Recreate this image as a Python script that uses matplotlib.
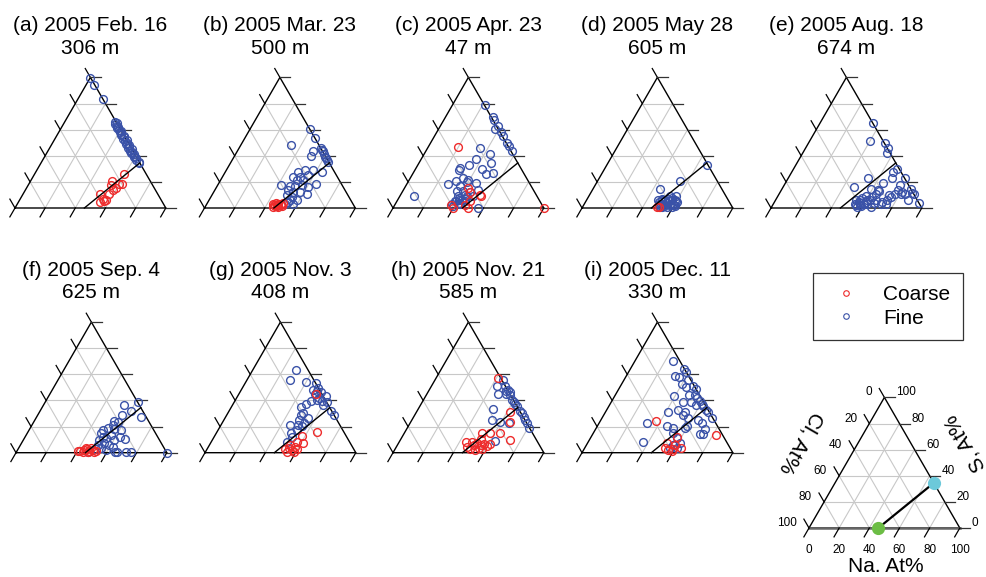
import numpy as np
import matplotlib.pyplot as plt
from matplotlib.lines import Line2D

plt.rcParams['font.family'] = ['Liberation Sans', 'DejaVu Sans']

# panel titles and sampling heights
titles = ["(a) 2005 Feb. 16", "(b) 2005 Mar. 23", "(c) 2005 Apr. 23",
          "(d) 2005 May 28", "(e) 2005 Aug. 18", "(f) 2005 Sep. 4",
          "(g) 2005 Nov. 3", "(h) 2005 Nov. 21", "(i) 2005 Dec. 11"]
heights = ["306 m", "500 m", "47 m", "605 m", "674 m",
           "625 m", "408 m", "585 m", "330 m"]

# particle compositions as (Na %, S %), Cl = 100 - Na - S
a_coarse = [(59.5, 26.1), (54.2, 20.3), (54.5, 17.7), (59.7, 18.2), (61.7, 18.5),
            (59.4, 15.2), (58.3, 13.9), (50.6, 10.9), (57.3, 10.6), (54.8, 6.8),
            (53.9, 4.3), (56.8, 5.1), (57.3, 6.3)]
a_fine = [(0.3, 99.5), (5.5, 94.4), (16.8, 83.3), (33, 66), (35, 65), (34, 64),
          (36, 63), (37.5, 62), (37, 61), (39, 60), (41, 59), (40.5, 58), (42, 57),
          (42, 56), (44.5, 55), (45, 54), (45, 53), (48, 52), (47.5, 51), (49, 50),
          (49, 49), (51.5, 48), (52, 47), (52, 46), (55, 45), (54.5, 44), (56, 43),
          (56, 42), (58.5, 41), (59, 40), (59.5, 39), (61.5, 38), (62, 37),
          (65, 35), (65, 34.5)]

b_coarse = [(44.2, 2.8), (45.4, 3.9), (47.2, 3.4), (49.0, 2.8), (46.0, 1.3),
            (47.6, 1.3), (50.2, 1.8), (50.3, 3.9), (44.7, 0.8), (45.0, 2.0),
            (46.5, 2.5), (48.0, 1.0), (49.5, 2.0)]
b_fine = [(39.7, 60.6), (46.6, 53.4), (33.1, 48.5), (54.4, 45.9), (56.8, 43.3),
          (60.3, 39.4), (62.7, 36.9), (50.1, 43.3), (50.3, 40.2), (63.9, 27.8),
          (48.3, 27.8), (52.1, 29.1), (57.2, 29.1), (51.3, 24.0), (56.2, 25.3),
          (47.1, 23.5), (50.4, 21.4), (54.9, 21.4), (42.3, 17.5), (48.3, 16.8),
          (51.6, 16.8), (55.7, 17.5), (60.8, 16.2), (65.0, 18.0), (48.7, 13.7),
          (52.7, 12.4), (57.1, 12.4), (62.2, 11.1), (49.5, 9.8), (53.5, 8.5),
          (58.1, 5.9), (57.2, 3.4), (53.3, 4.6), (51.9, 2.8), (53.5, 6.4),
          (55.5, 44.6), (58.5, 41.0), (61.5, 38.0), (64.0, 35.5)]

c_coarse = [(19.9, 46.9), (42.3, 15.4), (45.1, 12.1), (52.7, 10.3), (53.9, 9.0),
            (48.5, 5.1), (49.6, 0.0), (37.1, 2.6), (39.6, 0.0), (100.0, 0.0),
            (46.5, 2.6)]
c_fine = [(21.8, 78.7), (31.0, 70.0), (33.0, 67.4), (37.9, 62.8), (37.4, 60.8),
          (42.5, 58.2), (45.3, 55.1), (50.6, 50.0), (53.0, 47.4), (57.1, 43.6),
          (34.7, 46.2), (43.9, 41.0), (36.5, 37.2), (33.8, 33.3), (47.9, 34.1),
          (29.0, 30.8), (29.1, 29.0), (43.9, 30.0), (48.6, 26.4), (52.8, 26.9),
          (35.1, 23.1), (31.5, 20.5), (39.4, 21.3), (39.5, 19.7), (45.5, 19.2),
          (26.8, 18.7), (36.1, 16.7), (9.5, 9.5), (49.4, 13.6), (45.0, 12.3),
          (40.3, 12.8), (35.8, 12.8), (38.8, 9.0), (42.4, 6.4), (38.6, 5.1),
          (37.3, 3.3), (42.8, 3.3), (45.2, 5.1), (39.1, 1.8), (56.2, 0.0),
          (44.4, 9.0), (48.8, 9.0), (40.0, 8.0), (41.0, 6.0), (43.0, 10.0),
          (42.0, 4.0), (39.0, 5.0), (44.0, 7.0)]

d_coarse = [(49.0, 1.0), (51.0, 0.5)]
d_fine = [(66.5, 33.3), (54.7, 20.5), (44.2, 14.9), (57.8, 9.0), (47.6, 5.9),
          (49.2, 7.2), (51.8, 6.4), (53.6, 7.2), (56.5, 5.9), (58.4, 6.4),
          (49.6, 3.3), (52.2, 3.3), (54.2, 3.8), (56.7, 3.3), (58.9, 3.3),
          (60.4, 4.6), (52.4, 0.8), (55.7, 0.8), (59.0, 0.8), (61.0, 1.3),
          (51.3, 0.8), (52.3, 5.4), (48.5, 4.5), (50.5, 2.0), (53.5, 1.5),
          (55.0, 5.0), (57.5, 2.0), (59.5, 5.5), (50.0, 6.5), (54.0, 9.0),
          (56.0, 8.0), (60.0, 2.5)]

e_coarse = []
e_fine = [(35.3, 64.9), (39.8, 51.5), (50.3, 50.0), (55.0, 45.6), (55.5, 42.3),
          (69.0, 29.5), (67.0, 27.7), (69.1, 22.6), (77.6, 22.6), (52.9, 23.1),
          (64.8, 19.2), (47.0, 16.2), (58.6, 14.9), (64.0, 14.1), (65.0, 13.1),
          (76.6, 17.4), (77.6, 13.6), (81.0, 12.3), (80.5, 11.0), (85.2, 14.9),
          (88.0, 11.5), (83.4, 10.5), (89.4, 11.0), (87.9, 6.4), (96.3, 3.8),
          (77.0, 10.5), (75.1, 8.5), (74.2, 5.9), (74.6, 2.8), (71.3, 2.8),
          (66.3, 3.8), (65.6, 0.8), (58.2, 9.0), (56.5, 7.9), (60.6, 6.4),
          (53.1, 5.9), (55.9, 4.6), (55.0, 2.1), (58.3, 2.1), (60.2, 2.8),
          (62.2, 3.3), (56.7, 0.8), (63.0, 5.9), (66.1, 6.4), (71.5, 4.6),
          (73.4, 9.7), (63.8, 11.0), (62.9, 8.5), (54.0, 3.0), (57.0, 4.0),
          (59.0, 1.5), (61.0, 4.5), (56.0, 6.0), (60.0, 3.0)]

f_coarse = [(40.5, 1.3), (42.0, 1.5), (44.1, 2.1), (45.7, 2.6), (47.8, 1.5),
            (49.7, 2.1), (52.2, 1.5), (44.0, 0.3), (47.8, 0.3), (51.8, 0.3),
            (48.0, 3.4), (44.6, 3.4)]
f_fine = [(61.7, 38.7), (53.0, 36.9), (60.7, 31.7), (55.9, 28.6), (69.1, 27.3),
          (53.3, 24.0), (56.0, 23.2), (53.5, 21.4), (51.9, 18.8), (49.0, 17.0),
          (56.3, 18.0), (61.3, 17.0), (48.9, 14.9), (56.2, 13.7), (62.5, 12.4),
          (66.9, 10.3), (54.2, 11.1), (60.4, 9.8), (55.0, 7.2), (59.0, 5.9),
          (61.9, 4.6), (54.7, 3.4), (58.7, 2.1), (65.2, 0.3), (67.0, 0.3),
          (73.0, 0.3), (76.3, 0.3), (100.0, 0.0), (51.2, 5.9), (51.7, 2.6),
          (51.3, 12.4), (50.4, 9.8), (47.9, 0.3)]

g_coarse = [(51.0, 44.6), (58.0, 12.9), (66.3, 15.5), (57.1, 8.0), (61.3, 7.7),
            (53.7, 5.9), (53.9, 3.4), (56.7, 2.1), (57.7, 4.6), (54.0, 0.8),
            (58.5, 0.8), (59.7, 2.8), (51.9, 2.8)]
g_fine = [(29.1, 63.1), (28.4, 55.7), (40.1, 54.4), (46.8, 53.1), (50.3, 49.7),
          (48.0, 47.7), (53.4, 46.6), (58.4, 43.3), (54.6, 42.0), (58.1, 39.4),
          (61.8, 38.7), (60.0, 36.9), (54.1, 40.7), (50.3, 39.4), (47.9, 37.6),
          (46.3, 35.1), (49.9, 30.4), (55.0, 26.5), (48.8, 29.1), (49.6, 25.3),
          (54.3, 22.7), (50.9, 21.4), (45.8, 20.9), (52.4, 17.5), (49.3, 14.9),
          (51.6, 12.4), (50.4, 8.0), (54.4, 20.1), (50.8, 47.2), (50.4, 44.6),
          (71.0, 29.1), (67.2, 32.2)]

h_coarse = [(40.9, 57.2), (61.9, 31.0), (66.0, 23.8), (51.4, 15.4), (57.2, 14.9),
            (63.4, 14.9), (73.0, 9.7), (44.3, 8.5), (53.2, 10.5), (46.8, 4.6),
            (50.6, 5.9), (52.2, 7.2), (55.1, 5.9), (57.0, 6.4), (59.7, 5.4),
            (49.9, 2.8), (53.6, 2.1), (55.3, 3.3), (57.7, 2.8), (61.4, 6.4),
            (48.5, 7.9)]
h_fine = [(45.0, 55.9), (43.0, 51.3), (49.2, 50.8), (52.0, 48.2), (47.1, 44.9),
          (52.8, 44.9), (56.0, 43.8), (58.8, 40.5), (60.8, 38.7), (62.6, 37.2),
          (64.6, 35.4), (68.1, 32.1), (70.5, 30.3), (72.9, 27.7), (75.3, 25.1),
          (77.6, 22.6), (80.9, 19.2), (49.8, 33.3), (52.8, 25.1), (59.3, 23.8),
          (65.5, 22.6), (63.4, 9.0), (51.7, 46.9), (54.2, 46.4)]

i_coarse = [(37.1, 24.6), (81.9, 13.6), (56.6, 12.3), (52.5, 7.2), (53.4, 3.3),
            (56.2, 2.1), (58.7, 1.5), (59.1, 2.8), (63.7, 3.8), (58.7, 5.9)]
i_fine = [(25.1, 70.0), (35.6, 64.4), (38.3, 61.5), (32.4, 58.5), (35.7, 57.7),
          (42.6, 55.9), (39.7, 52.8), (43.9, 50.3), (48.2, 51.3), (51.1, 49.0),
          (49.0, 44.4), (52.7, 44.4), (55.6, 41.8), (58.5, 39.7), (60.8, 37.2),
          (62.8, 35.4), (65.9, 32.8), (68.3, 31.0), (72.6, 26.9), (39.5, 43.1),
          (47.9, 38.7), (53.0, 38.7), (57.3, 36.7), (41.5, 31.5), (47.5, 32.8),
          (52.6, 31.5), (52.7, 29.0), (57.3, 26.4), (64.7, 25.1), (68.1, 22.6),
          (72.5, 18.2), (71.3, 14.1), (73.5, 14.1), (31.3, 23.1), (46.1, 20.8),
          (51.2, 18.7), (59.0, 18.7), (59.0, 20.8), (35.9, 8.5), (53.1, 14.9),
          (57.2, 11.0), (57.1, 5.9), (61.1, 3.3), (56.7, 3.3), (61.4, 7.2)]

coarse_sets = [a_coarse, b_coarse, c_coarse, d_coarse, e_coarse,
               f_coarse, g_coarse, h_coarse, i_coarse]
fine_sets = [a_fine, b_fine, c_fine, d_fine, e_fine,
             f_fine, g_fine, h_fine, i_fine]

tick_values = [0, 20, 40, 60, 80, 100]
nacl_point = (46, 0)
na2so4_point = (65.5, 34.5)

RED = '#ee2b2b'
BLUE = '#3a52a8'
GRID = '#c8c8c8'
R3 = np.sqrt(3) / 2


def tern_xy(na, s):
    na = np.asarray(na, dtype=float) / 100
    s = np.asarray(s, dtype=float) / 100
    return na + s / 2, s * R3


def draw_frame(ax, key=False):
    for v in (20, 40, 60, 80):
        for nas, ss in (([0, 100 - v], [v, v]),
                        ([v, v], [0, 100 - v]),
                        ([100 - v, 0], [0, 100 - v])):
            x, y = tern_xy(nas, ss)
            ax.plot(x, y, color=GRID, lw=0.8, zorder=1)
    x, y = tern_xy([0, 100, 0, 0], [0, 0, 100, 0])
    ax.plot(x, y, color='k', lw=1.0, zorder=2)
    if key:
        x, y = tern_xy([0, 100], [0, 0])
        ax.plot(x, y, color='#666666', lw=1.8, zorder=2)
    t = 0.068
    for v in tick_values:
        bx, by = tern_xy(v, 0)
        ax.plot([bx, bx - t / 2], [by, by - t * R3], color='k', lw=0.9)
        lx, ly = tern_xy(0, 100 - v)
        ax.plot([lx, lx - t / 2], [ly, ly + t * R3], color='k', lw=0.9)
        rx, ry = tern_xy(100 - v, v)
        ax.plot([rx, rx + t], [ry, ry], color='#333333', lw=0.9)


W, H = 987, 577
L = 150.8
fig = plt.figure(figsize=(W / 100, H / 100), dpi=100)


def make_axes(x0, yb):
    ax = fig.add_axes([(x0 - 0.2 * L) / W, 1 - (yb + 0.2 * L) / H,
                       1.4 * L / W, 1.5 * L / H])
    ax.set_xlim(-0.2, 1.2)
    ax.set_ylim(-0.2, 1.3)
    ax.axis('off')
    return ax


positions = [(15, 208), (204.5, 208), (393, 208), (582, 208), (771, 208),
             (16, 452.7), (205, 452.7), (393, 452.7), (582, 452.7)]

for k, (x0, yb) in enumerate(positions):
    ax = make_axes(x0, yb)
    draw_frame(ax)
    lx, ly = tern_xy([nacl_point[0], na2so4_point[0]], [nacl_point[1], na2so4_point[1]])
    ax.plot(lx, ly, color='k', lw=1.0, zorder=5)
    fine = np.array(fine_sets[k]).reshape(-1, 2)
    coarse = np.array(coarse_sets[k]).reshape(-1, 2)
    fx, fy = tern_xy(fine[:, 0], fine[:, 1])
    ax.plot(fx, fy, 'o', ms=5.6, mfc='none', mec=BLUE, mew=1.0, zorder=3, clip_on=False)
    cx, cy = tern_xy(coarse[:, 0], coarse[:, 1])
    ax.plot(cx, cy, 'o', ms=5.6, mfc='none', mec=RED, mew=1.0, zorder=4, clip_on=False)
    ax.text(0.5, 1.21, titles[k], ha='center', va='center', fontsize=15)
    ax.text(0.5, 1.06, heights[k], ha='center', va='center', fontsize=15)

# key diagram
kax = make_axes(809, 528)
draw_frame(kax, key=True)
lx, ly = tern_xy([nacl_point[0], na2so4_point[0]], [nacl_point[1], na2so4_point[1]])
kax.plot(lx, ly, color='k', lw=1.6, zorder=5)
kax.plot(lx[0], ly[0], 'o', ms=9.5, color='#6cbd45', mec='none', zorder=6)
kax.plot(lx[1], ly[1], 'o', ms=9.5, color='#6cc9da', mec='none', zorder=6)
for v in tick_values:
    bx, by = tern_xy(v, 0)
    kax.text(bx, by - 0.146, str(v), ha='center', va='center', fontsize=8.5)
    px, py = tern_xy(0, 100 - v)
    kax.text(px - 0.08, py + 0.033, str(v), ha='right', va='center', fontsize=8.5)
    px, py = tern_xy(100 - v, v)
    kax.text(px + 0.08, py + 0.033, str(v), ha='left', va='center', fontsize=8.5)
kax.text(0.51, -0.255, "Na. At%", ha='center', va='center', fontsize=15)
kax.text(-0.053, 0.564, "Cl, At%", ha='center', va='center', fontsize=15, rotation=240)
kax.text(1.034, 0.564, "S, At%", ha='center', va='center', fontsize=15, rotation=120)

handles = [Line2D([], [], ls='none', marker='o', ms=4, mfc='none', mec=RED, mew=0.8),
           Line2D([], [], ls='none', marker='o', ms=4, mfc='none', mec=BLUE, mew=0.8)]
leg = fig.legend(handles, ["Coarse", "Fine"], loc='upper left',
                 bbox_to_anchor=(813 / W, 1 - 273 / H), borderaxespad=0,
                 fontsize=15, frameon=True, fancybox=False, borderpad=0.6,
                 handlelength=2.0, handletextpad=0.76, labelspacing=0.2)
leg.get_frame().set_edgecolor('k')
leg.get_frame().set_linewidth(0.9)

fig.savefig('out.png', dpi=100)
